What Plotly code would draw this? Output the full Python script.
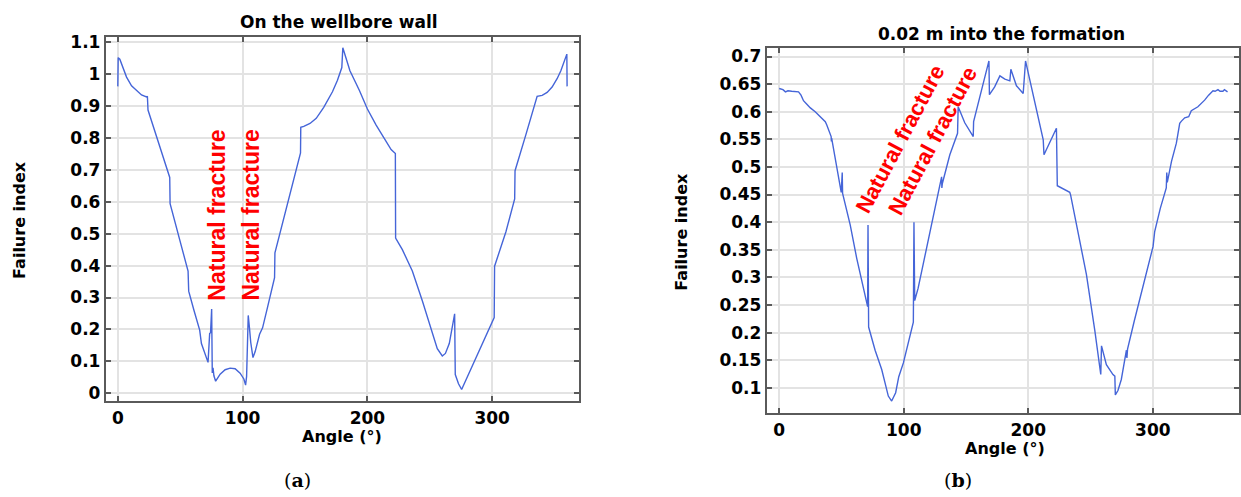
import plotly.graph_objects as go

# ---------------- data ----------------
# (a) On the wellbore wall
wall_angle = [0, 0.3, 1.6, 3, 7, 11, 15, 19, 23, 23.7, 24.2, 41.6, 41.9, 46, 51, 56.3, 56.8,
              61, 65.6, 67, 69.5, 71.5, 72.3, 73.6, 74.3, 75.2, 75.7, 76.3, 77, 78.4,
              82, 86, 90, 94, 98, 101, 102.4, 103.2, 104.5, 105.5, 106.5, 108.3, 110, 113.6,
              116, 120, 125.6, 125.9, 131, 138, 146.4, 146.6, 149, 154, 159, 165, 172, 176,
              179.5, 180.3, 186, 193.6, 200, 207, 213, 219, 222.4, 222.6, 228, 236, 244, 252,
              256, 260, 262.5, 265.6, 269.9, 270.4, 273, 275.5, 280, 290, 301.6, 301.9, 311,
              318, 318.3, 327, 336, 340, 344, 348, 352, 355, 359.8, 360]
wall_fi = [0.961, 1.051, 1.046, 1.03, 0.99, 0.963, 0.947, 0.934, 0.928, 0.93, 0.887, 0.676, 0.594,
           0.53, 0.46, 0.383, 0.32, 0.26, 0.198, 0.156, 0.125, 0.105, 0.097, 0.187, 0.19, 0.264,
           0.064, 0.08, 0.055, 0.038, 0.06, 0.074, 0.079, 0.077, 0.063, 0.045, 0.026, 0.053, 0.244,
           0.205, 0.16, 0.112, 0.13, 0.185, 0.205, 0.27, 0.362, 0.44, 0.518, 0.625, 0.753, 0.833,
           0.836, 0.845, 0.861, 0.895, 0.944, 0.98, 1.02, 1.082, 1.01, 0.948, 0.89, 0.84, 0.80,
           0.763, 0.751, 0.486, 0.45, 0.383, 0.29, 0.187, 0.14, 0.117, 0.125, 0.156, 0.249, 0.059,
           0.03, 0.012, 0.05, 0.137, 0.237, 0.398, 0.506, 0.609, 0.697, 0.81, 0.93, 0.933, 0.942,
           0.959, 0.985, 1.01, 1.062, 0.961]

# (b) 0.02 m into the formation
form_angle = [0, 3, 5, 7, 10, 13, 15.5, 17.5, 19.5, 22, 25, 28.9, 33, 37, 38.2, 41.7, 41.9, 42.1,
              49.8, 50.6, 50.9, 57, 62.2, 66.3, 71, 71.3, 71.8, 77, 82.3, 87.6, 90.3, 93.5, 96,
              99.7, 104, 107.7, 108.2, 108.8, 111.5, 114.4, 119.5, 125, 130.4, 130.6, 131, 137,
              143.2, 143.7, 149, 155.8, 156.1, 162, 168.4, 168.8, 173, 177.2, 181.2, 185.2, 186,
              190.5, 195.9, 197.8, 205, 212, 212.6, 222.6, 223.3, 228, 233.3, 234, 240, 243.2,
              246.7, 253.4, 258.2, 258.8, 262.7, 268, 269.5, 269.9, 272, 274.7, 278.8, 279.2,
              279.7, 285, 290.8, 296, 300.2, 301.5, 306, 310.8, 311.2, 311.6, 315, 318.9, 321.6,
              323, 325.6, 328.8, 330.9, 336.2, 341.6, 344.8, 348.3, 350, 352.3, 354, 356.3, 357.5, 360]
form_fi = [0.642, 0.640, 0.636, 0.638, 0.637, 0.637, 0.636, 0.630, 0.620, 0.614, 0.607, 0.600,
           0.591, 0.582, 0.576, 0.555, 0.546, 0.552, 0.454, 0.49, 0.452, 0.395, 0.335, 0.293,
           0.247, 0.395, 0.21, 0.168, 0.133, 0.085, 0.076, 0.091, 0.12, 0.145, 0.185, 0.219,
           0.40, 0.258, 0.28, 0.311, 0.37, 0.428, 0.482, 0.462, 0.47, 0.522, 0.561, 0.609, 0.58,
           0.555, 0.582, 0.635, 0.692, 0.631, 0.645, 0.665, 0.659, 0.656, 0.677, 0.647, 0.633,
           0.692, 0.62, 0.549, 0.522, 0.57, 0.466, 0.46, 0.454, 0.449, 0.383, 0.35, 0.305, 0.204,
           0.124, 0.176, 0.142, 0.124, 0.121, 0.087, 0.095, 0.115, 0.168, 0.154, 0.17, 0.22,
           0.27, 0.315, 0.356, 0.383, 0.425, 0.462, 0.49, 0.472, 0.51, 0.543, 0.579, 0.583,
           0.589, 0.591, 0.602, 0.609, 0.621, 0.63, 0.638, 0.637, 0.640, 0.637, 0.637, 0.64, 0.636]

x_tickvals = [0, 100, 200, 300]
x_ticktext = ["0", "100", "200", "300"]
a_tickvals = [0, 0.1, 0.2, 0.3, 0.4, 0.5, 0.6, 0.7, 0.8, 0.9, 1.0, 1.1]
a_ticktext = ["0", "0.1", "0.2", "0.3", "0.4", "0.5", "0.6", "0.7", "0.8", "0.9", "1", "1.1"]
b_tickvals = [0.1, 0.15, 0.2, 0.25, 0.3, 0.35, 0.4, 0.45, 0.5, 0.55, 0.6, 0.65, 0.7]
b_ticktext = ["0.1", "0.15", "0.2", "0.25", "0.3", "0.35", "0.4", "0.45", "0.5", "0.55", "0.6", "0.65", "0.7"]

# ---------------- layout helpers ----------------
W, H = 1241, 497
def px(x):
    return x / W
def py(y):
    return 1 - y / H

LINE = "#4565d8"
AXC = "#5a5a5a"
GRID = "#e3e3e3"
TICKFONT = dict(family="DejaVu Sans", size=17, color="black", weight="bold")

fig = go.Figure()
fig.add_trace(go.Scatter(x=wall_angle, y=wall_fi, mode="lines",
                         line=dict(color=LINE, width=1.4), xaxis="x", yaxis="y",
                         showlegend=False, hoverinfo="skip"))
fig.add_trace(go.Scatter(x=form_angle, y=form_fi, mode="lines",
                         line=dict(color=LINE, width=1.4), xaxis="x2", yaxis="y2",
                         showlegend=False, hoverinfo="skip"))

def xax(domain, anchor, rng):
    return dict(domain=domain, anchor=anchor, range=rng, tickvals=x_tickvals, ticktext=x_ticktext,
                showline=True, linecolor=AXC, linewidth=2, mirror="ticks", ticks="inside",
                ticklen=5, tickwidth=1.5, tickcolor=AXC, showgrid=True, gridcolor=GRID,
                gridwidth=1.5, zeroline=False, tickfont=TICKFONT)

def yax(domain, anchor, rng, tv, tt):
    return dict(domain=domain, anchor=anchor, range=rng, tickvals=tv, ticktext=tt,
                showline=True, linecolor=AXC, linewidth=2, mirror="ticks", ticks="inside",
                ticklen=5, tickwidth=1.5, tickcolor=AXC, showgrid=True, gridcolor=GRID,
                gridwidth=1.5, zeroline=False, tickfont=TICKFONT)

fig.update_layout(
    width=W, height=H,
    margin=dict(l=0, r=0, t=0, b=0),
    paper_bgcolor="white", plot_bgcolor="white",
    xaxis=xax([px(106), px(580)], "y", [-9.6, 369.6]),
    yaxis=yax([py(402), py(32)], "x", [-0.025, 1.117], a_tickvals, a_ticktext),
    xaxis2=xax([px(768), 1.0], "y2", [-10, 369.2]),
    yaxis2=yax([py(414), py(43.3)], "x2", [0.054, 0.716], b_tickvals, b_ticktext),
)

BOLD = dict(family="DejaVu Sans", color="black", weight="bold")
ann = []
def add(text, x, y, font, angle=0):
    ann.append(dict(text=text, x=px(x), y=py(y), xref="paper", yref="paper",
                    xanchor="center", yanchor="middle", showarrow=False,
                    textangle=angle, font=font))

add("On the wellbore wall", 340, 17, dict(BOLD, size=17))
add("0.02 m into the formation", 1003, 29, dict(BOLD, size=17))
add("Failure index", 20, 218, dict(BOLD, size=16), -90)
add("Failure index", 683, 230, dict(BOLD, size=16), -90)
add("Angle (°)", 343, 438, dict(BOLD, size=16))
add("Angle (°)", 1007, 450, dict(BOLD, size=16))

RED = dict(family="Liberation Sans", size=23, color="#ff0000", weight="bold")
add("Natural fracture", 217, 213, RED, -90)
add("Natural fracture", 251, 213, RED, -90)
RED2 = dict(RED, size=22)
add("Natural fracture", 901, 136, RED2, -62)
add("Natural fracture", 934, 137, RED2, -62)

SERIF = dict(family="DejaVu Serif", size=19, color="black")
add("(<b>a</b>)", 298, 482, SERIF)
add("(<b>b</b>)", 960, 482, SERIF)

fig.update_layout(annotations=ann)
fig.write_html("out.html", config={"displayModeBar": False},
               post_script="document.body.style.margin='0px';")
